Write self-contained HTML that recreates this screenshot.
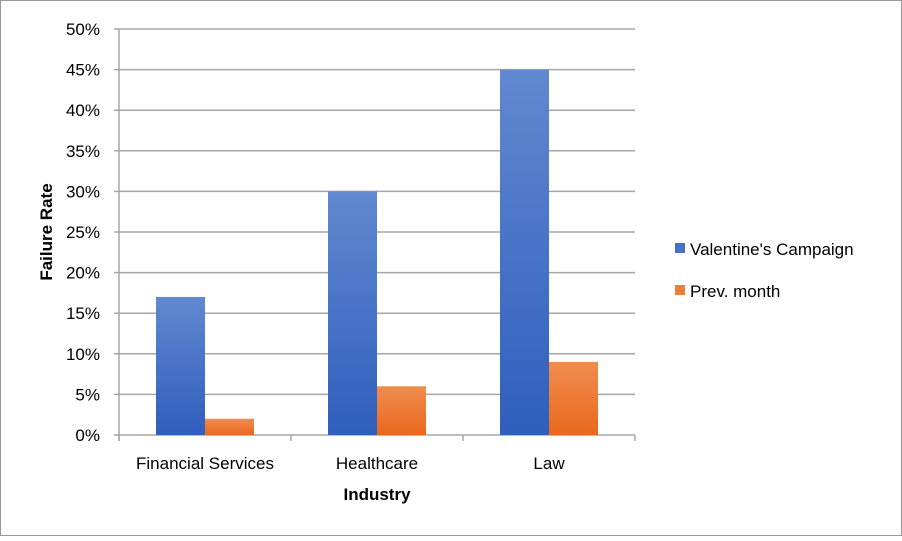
<!DOCTYPE html>
<html><head><meta charset="utf-8"><style>
body{margin:0;background:#fff}
svg text{font-family:"Liberation Sans",sans-serif;fill:#000}
</style></head><body>
<svg width="902" height="536" xmlns="http://www.w3.org/2000/svg">
<defs>
<linearGradient id="gb" x1="0" y1="0" x2="0" y2="1"><stop offset="0" stop-color="#6189d0"/><stop offset="1" stop-color="#2f5ebd"/></linearGradient>
<linearGradient id="go" x1="0" y1="0" x2="0" y2="1"><stop offset="0" stop-color="#f18c4e"/><stop offset="1" stop-color="#e8691d"/></linearGradient>
</defs>
<rect x="0.5" y="0.5" width="901" height="535" fill="#fff" stroke="#999"/>
<g id="grid"></g><g id="bars"></g><g id="axes"></g>
<text x="377" y="500" text-anchor="middle" font-weight="bold" font-size="17">Industry</text>
<text transform="translate(52,232) rotate(-90)" text-anchor="middle" font-weight="bold" font-size="17">Failure Rate</text>
<g>
<rect x="675" y="243" width="10" height="10" fill="#4472c4"/>
<text x="690" y="255" font-size="17">Valentine's Campaign</text>
<rect x="675" y="285" width="10" height="10" fill="#ed7d31"/>
<text x="690" y="297" font-size="17">Prev. month</text>
</g>
</svg>
<script>
const categories=["Financial Services","Healthcare","Law"];
const valentines=[17,30,45];
const prevMonth=[2,6,9];
const yTicks=[0,5,10,15,20,25,30,35,40,45,50];
const NS="http://www.w3.org/2000/svg";
const x0=119,x1=635,y0=435,y1=29,yMax=50;
const y=v=>y0-(v/yMax)*(y0-y1);
const bw=(x1-x0)/categories.length;
function mk(t,a,p){const e=document.createElementNS(NS,t);for(const k in a)e.setAttribute(k,a[k]);p.appendChild(e);return e;}
const grid=document.getElementById('grid'),bars=document.getElementById('bars'),axes=document.getElementById('axes');
yTicks.forEach(v=>{
 const l=mk('line',{x1:x0-5,x2:x1,y1:y(v),y2:y(v),stroke:'#a6a6a6','stroke-width':1.5},grid);
 
 
 const t=mk('text',{x:100,y:y(v)+6,'text-anchor':'end','font-size':17},axes);
 t.textContent=v+'%';
 
 
});
const ax=mk('line',{x1:x0,x2:x0,y1:y1,y2:y0+6,stroke:'#a6a6a6','stroke-width':1.5},axes);


for(let i=0;i<=categories.length;i++){
 const t=mk('line',{x1:x0+i*bw,x2:x0+i*bw,y1:y0,y2:y0+6,stroke:'#a6a6a6','stroke-width':1.5},axes);
 
 
}
categories.forEach((c,i)=>{
 const cx=x0+bw*(i+0.5);
 const b=mk('rect',{x:cx-49,y:y(valentines[i]),width:49,height:y0-y(valentines[i]),fill:'url(#gb)'},bars);
 
 
 const o=mk('rect',{x:cx,y:y(prevMonth[i]),width:49,height:y0-y(prevMonth[i]),fill:'url(#go)'},bars);
 
 
 const t=mk('text',{x:cx,y:469,'text-anchor':'middle','font-size':17},axes);
 t.textContent=c;
 
 
});
</script>
</body></html>
